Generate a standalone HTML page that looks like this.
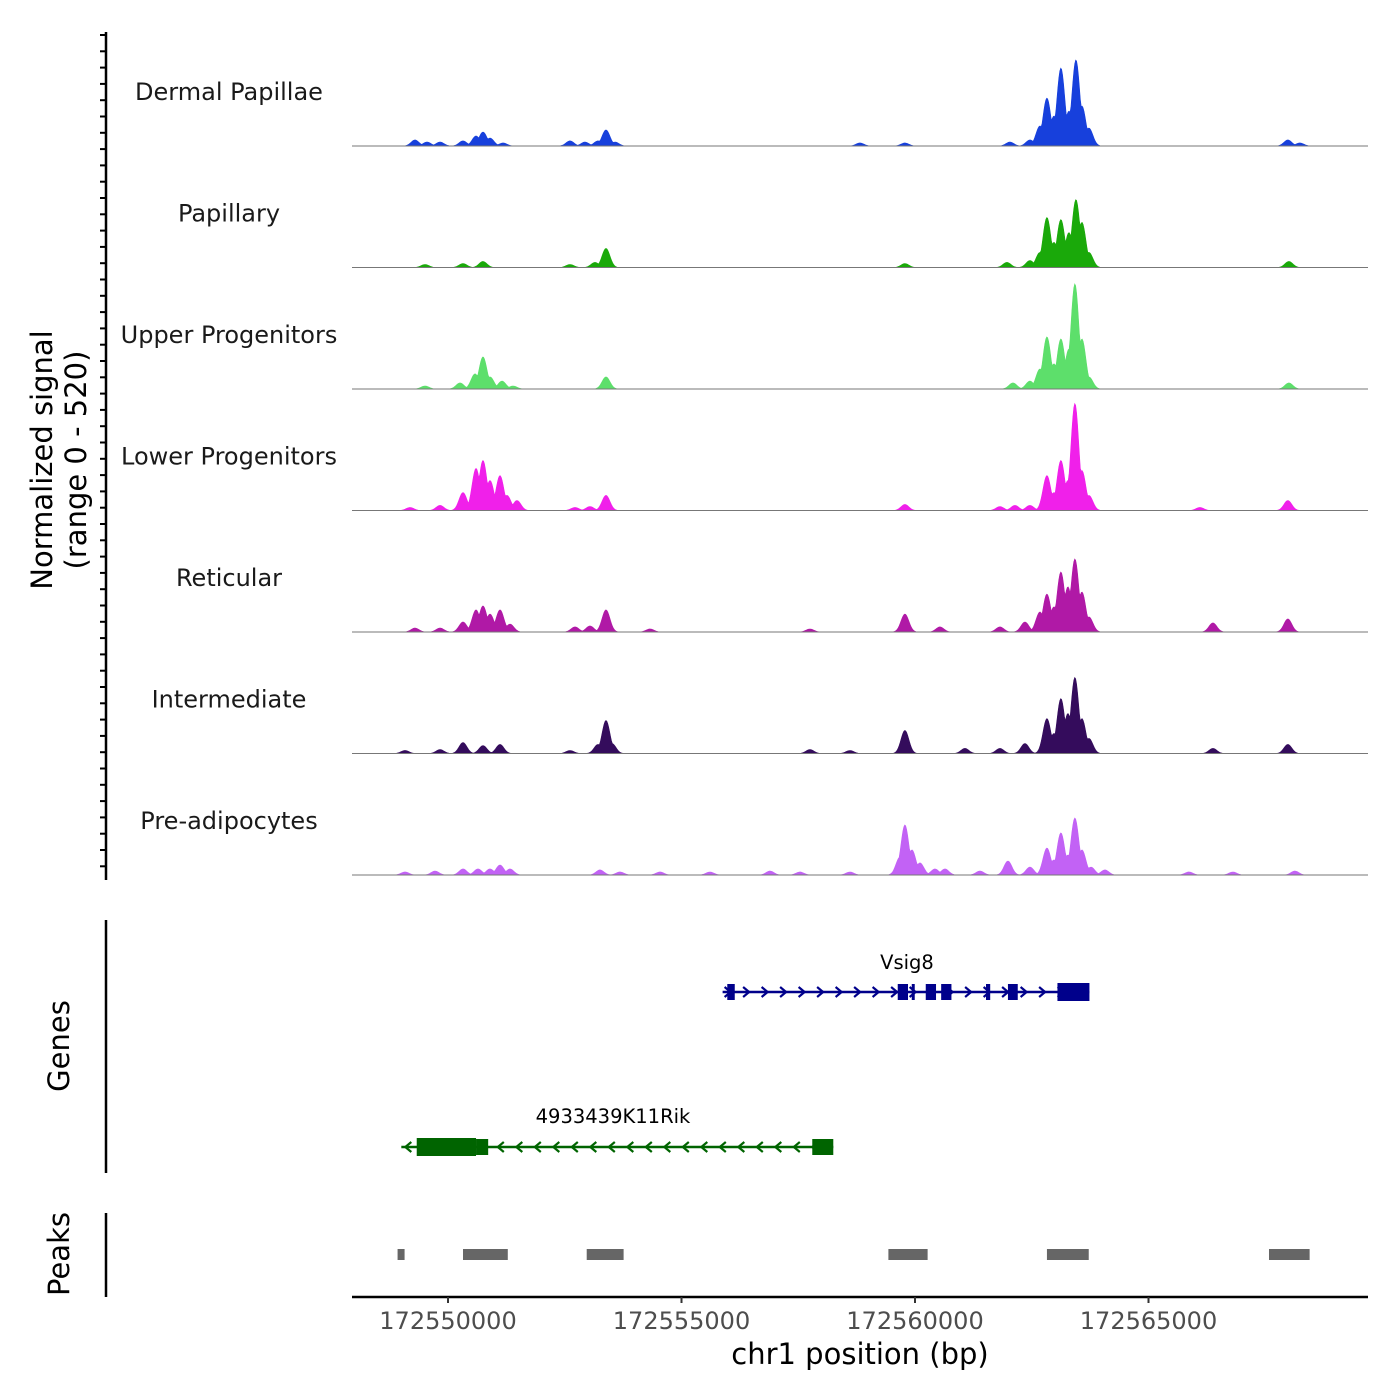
<!DOCTYPE html>
<html><head><meta charset="utf-8">
<style>
html,body{margin:0;padding:0;background:#fff;}
svg{display:block;font-family:"DejaVu Sans","Liberation Sans",sans-serif;}
</style></head>
<body>
<svg id="chart" width="1400" height="1400" viewBox="0 0 1400 1400" xmlns="http://www.w3.org/2000/svg">
<g id="tracks"></g>
<g id="axes"></g>
<g id="genes"></g>
<g id="peaks"></g>
<text transform="translate(52,460) rotate(-90)" text-anchor="middle" font-size="29" fill="#000">Normalized signal</text>
<text transform="translate(86,460) rotate(-90)" text-anchor="middle" font-size="29" fill="#000">(range 0 - 520)</text>
<text transform="translate(69,1046) rotate(-90)" text-anchor="middle" font-size="29" fill="#000">Genes</text>
<text transform="translate(69,1254) rotate(-90)" text-anchor="middle" font-size="29" fill="#000">Peaks</text>
<text x="860" y="1364" text-anchor="middle" font-size="29" fill="#000">chr1 position (bp)</text>
</svg>
<script>
const NS="http://www.w3.org/2000/svg";
const xDomain=[172547944,172569700];
const xTicks=[172550000,172555000,172560000,172565000];
const yMax=520;
const trackNames=["Dermal Papillae","Papillary","Upper Progenitors","Lower Progenitors","Reticular","Intermediate","Pre-adipocytes"];
const trackColors=["#1740dc","#1aa90a","#5ddf6b","#f020ea","#b019a6","#340c5c","#c262f5"];
const dpPos=[172549293,172549550,172549829,172550321,172550600,172550749,172550899,172551178,172552612,172552933,172553212,172553383,172553575,172558821,172559784,172562032,172562461,172562675,172562825,172562975,172563124,172563296,172563446,172563574,172563724,172567984,172568241];
const dpVal=[26,17,17,22,43,60,34,13,22,17,22,69,17,13,13,17,26,86,206,129,335,150,370,172,77,26,13];
const paPos=[172549508,172550321,172550749,172552612,172553147,172553383,172559784,172561968,172562461,172562675,172562825,172562975,172563124,172563296,172563446,172563574,172563724,172568006];
const paVal=[13,17,26,13,22,82,17,22,30,65,215,108,206,150,292,194,65,26];
const upPos=[172549508,172550257,172550578,172550749,172550899,172551156,172551392,172553383,172562097,172562461,172562675,172562825,172562975,172563124,172563296,172563424,172563574,172563724,172568006];
const upVal=[13,26,65,138,52,34,13,52,26,34,86,224,108,215,172,452,215,52,26];
const loPos=[172549186,172549829,172550321,172550600,172550749,172550899,172551113,172551263,172551477,172552719,172553040,172553383,172559784,172561818,172562140,172562461,172562825,172562975,172563124,172563274,172563424,172563574,172563724,172566100,172567984];
const loVal=[13,22,77,181,215,129,150,65,43,13,17,65,26,17,22,22,150,77,215,129,460,172,65,13,43];
const rePos=[172549293,172549829,172550321,172550600,172550749,172550899,172551113,172551327,172552719,172553040,172553383,172554325,172557750,172559784,172560534,172561818,172562354,172562675,172562825,172562975,172563124,172563274,172563424,172563574,172563724,172566379,172567984];
const reVal=[17,17,43,95,112,77,95,34,22,26,95,13,13,77,22,22,43,86,163,108,258,194,314,172,65,39,56];
const inPos=[172549079,172549829,172550321,172550749,172551113,172552612,172553212,172553383,172553511,172557750,172558607,172559784,172561069,172561818,172562354,172562825,172562975,172563124,172563274,172563424,172563574,172563724,172566379,172567984];
const inVal=[13,17,47,34,39,13,39,142,43,17,13,99,22,22,43,150,86,236,172,327,150,65,22,39];
const prPos=[172549079,172549722,172550321,172550642,172550899,172551113,172551327,172553254,172553683,172554539,172555609,172556894,172557536,172558607,172559677,172559784,172559934,172560106,172560427,172560641,172561390,172561990,172562461,172562825,172562975,172563124,172563274,172563424,172563574,172563767,172564066,172565865,172566807,172568134];
const prVal=[13,17,26,26,26,43,26,22,13,13,13,17,13,13,77,215,108,52,26,26,17,60,34,116,65,181,86,245,108,34,22,13,13,17];
const trackPos=[dpPos,paPos,upPos,loPos,rePos,inPos,prPos];
const trackVal=[dpVal,paVal,upVal,loVal,reVal,inVal,prVal];
const geneNames=["Vsig8","4933439K11Rik"];
const geneStart=[172555880,172549000];
const geneEnd=[172563735,172558250];
const geneStrand=[1,-1];
const vsigExons=[[172555980,172556140],[172559630,172559850],[172559930,172559980],[172560230,172560450],[172560560,172560780],[172561520,172561610],[172561990,172562200],[172563050,172563735]];
const rikExons=[[172549330,172550600],[172550600,172550860],[172557800,172558250]];
const geneExons=[vsigExons,rikExons];
const peakStart=[172548920,172550321,172552970,172559430,172562825,172567580];
const peakEnd=[172549070,172551280,172553760,172560270,172563720,172568450];

const X0=352,X1=1368;
const xs=v=>X0+(v-xDomain[0])/(xDomain[1]-xDomain[0])*(X1-X0);
const trackH=121, firstBase=146;
const ys=(i,v)=>firstBase+i*121.5-v/yMax*trackH;
function el(tag,attrs,parent){const e=document.createElementNS(NS,tag);for(const k in attrs)e.setAttribute(k,attrs[k]);parent.appendChild(e);return e;}
const tracks=document.getElementById('tracks');
const SIG=85;
trackNames.forEach((name,i)=>{
  const base=firstBase+i*121.5;
  const pos=trackPos[i],val=trackVal[i];
  const step=20;let d=`M${xs(172548800)},${base}`;
  for(let b=172548800;b<=172568700;b+=step){
    let v=0;
    for(let k=0;k<pos.length;k++){const dd=(b-pos[k])/SIG;if(Math.abs(dd)<4){const c=val[k]*Math.exp(-dd*dd/2);if(c>v)v=c;}}
    d+=`L${xs(b).toFixed(2)},${ys(i,v).toFixed(2)}`;
  }
  d+=`L${xs(172568700)},${base}Z`;
  const p=el('path',{d:d,fill:trackColors[i],stroke:trackColors[i],'stroke-width':0.6},tracks);
  
  
  const bl=el('line',{x1:X0,x2:X1,y1:base,y2:base,stroke:'#777','stroke-width':1},tracks);
  
  
  const t=el('text',{x:229,y:base-46,'text-anchor':'middle','font-size':24,fill:'#1a1a1a'},tracks);
  t.textContent=name;
  
  
});
const axes=document.getElementById('axes');
function ln(x1,y1,x2,y2,w,c,name){const l=el('line',{x1,y1,x2,y2,stroke:c,'stroke-width':w},axes);return l;}
ln(106,32,106,880,2.5,'#000','signal-y-axis');
for(let y=35;y<=878;y+=16.3){ln(100,y,106,y,2,'#000','y-tick');}
ln(106,920,106,1173,2.5,'#000','genes-axis');
ln(106,1213,106,1297,2.5,'#000','peaks-axis');
ln(352,1297,1368,1297,2.5,'#000','x-axis-line');
xTicks.forEach(v=>{
  ln(xs(v),1297,xs(v),1303,2,'#333','x-tick');
  const t=el('text',{x:xs(v),y:1329,'text-anchor':'middle','font-size':24,fill:'#4d4d4d'},axes);
  t.textContent=String(v);
  
  
});
const genes=document.getElementById('genes');
const geneY=[992,1147],geneCol=['#00008b','#006400'],labY=[969,1123],labX=[907,613];
geneNames.forEach((g,i)=>{
  const y=geneY[i],c=geneCol[i],a=xs(geneStart[i]),b=xs(geneEnd[i]);
  const l=el('line',{x1:a,x2:b,y1:y,y2:y,stroke:c,'stroke-width':2.5},genes);
  
  
  for(let x=a+6;x<b-4;x+=18.5){
    const s=geneStrand[i];
    const pl=el('polyline',{points:`${x-4*s},${y-5} ${x+2*s},${y} ${x-4*s},${y+5}`,fill:'none',stroke:c,'stroke-width':2.2},genes);
    
    
  }
  geneExons[i].forEach(e=>{
    const w=xs(e[1])-xs(e[0]);const h=(w>25)?18:16;
    const r=el('rect',{x:xs(e[0]),y:y-h/2,width:Math.max(w,3),height:h,fill:c},genes);
    
    
  });
  const t=el('text',{x:labX[i],y:labY[i],'text-anchor':'middle','font-size':19.5,fill:'#000'},genes);
  t.textContent=g;
  
  
});
const peaks=document.getElementById('peaks');
peakStart.forEach((s,i)=>{
  const r=el('rect',{x:xs(s),y:1249,width:xs(peakEnd[i])-xs(s),height:11,fill:'#666'},peaks);
  
  
});
</script>
</body></html>
